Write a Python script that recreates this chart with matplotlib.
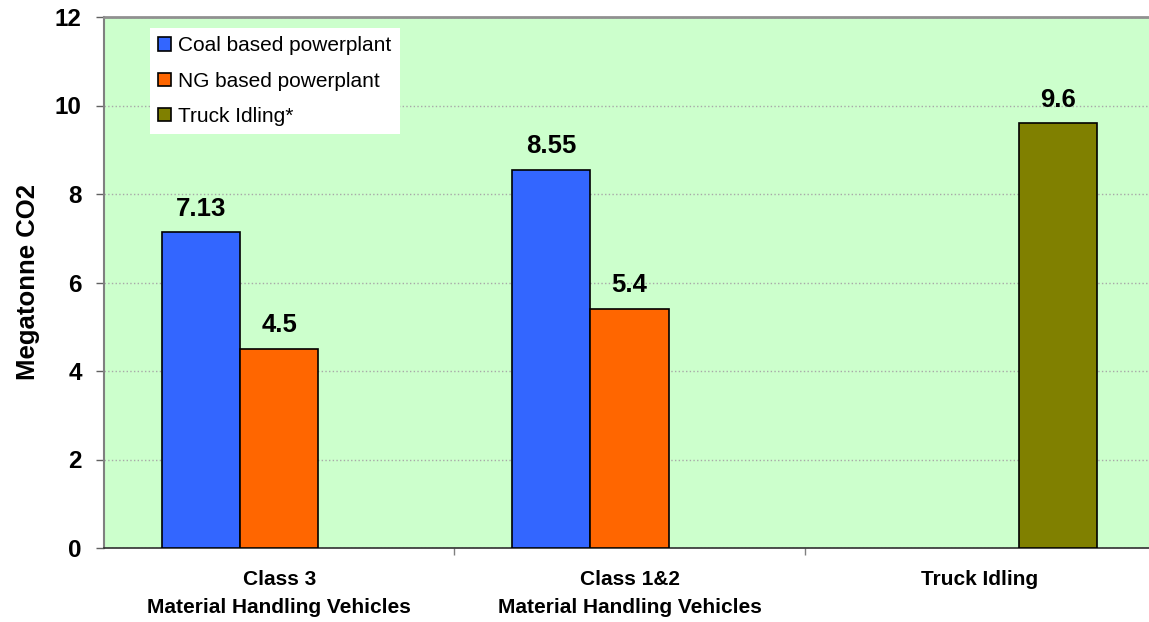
"""
Emissions chart: megatonnes of CO2 per vehicle class / powerplant type.
"""
import matplotlib
matplotlib.use("Agg")
import matplotlib.pyplot as plt
import numpy as np

plt.rcParams['font.family'] = ['Liberation Sans', 'DejaVu Sans']

categories = ['Class 3\nMaterial Handling Vehicles',
              'Class 1&2\nMaterial Handling Vehicles',
              'Truck Idling']
series_names = ['Coal based powerplant', 'NG based powerplant', 'Truck Idling*']
coal = [7.13, 8.55, None]
ng = [4.5, 5.4, None]
truck = [None, None, 9.6]
colors = ['#3366FF', '#FF6600', '#808000']

fig = plt.figure(figsize=(11.49, 6.22), dpi=100)
ax = fig.add_axes([104 / 1149, 1 - 548 / 622, 1051 / 1149, 531 / 622])
ax.set_facecolor('#CCFFCC')

x = np.arange(len(categories))
width = 0.223
offsets = [-width, 0, width]

for vals, off, col, name in zip([coal, ng, truck], offsets, colors, series_names):
    xs = [xi + off for xi, v in zip(x, vals) if v is not None]
    ys = [v for v in vals if v is not None]
    ax.bar(xs, ys, width=width, color=col, edgecolor='black', linewidth=1.2,
           label=name, zorder=3)
    for xi, yi in zip(xs, ys):
        ax.annotate(f'{yi:g}', (xi, yi), xytext=(0, 12), textcoords='offset points',
                    ha='center', va='baseline', fontsize=18.5, fontweight='bold')

ax.set_xlim(-0.5, 2.5)
ax.set_ylim(0, 12)
ax.set_yticks(range(0, 13, 2))
ax.tick_params(axis='y', labelsize=17.5, length=6, width=1, color='#606060', pad=10)
for lbl in ax.get_yticklabels():
    lbl.set_fontweight('bold')

ax.set_xticks(x)
ax.set_xticklabels(categories, fontsize=15, fontweight='bold', linespacing=1.6)
ax.tick_params(axis='x', which='major', length=0, pad=16)
ax.set_xticks([0.5, 1.5], minor=True)
ax.tick_params(axis='x', which='minor', length=5, width=1, color='#808080')

ax.grid(axis='y', color='#A8A8A8', linestyle=':', linewidth=1, zorder=0)
ax.set_ylabel('Megatonne CO2', fontsize=18.5, fontweight='bold', labelpad=11)

ax.spines['top'].set_color('#909090')
ax.spines['top'].set_linewidth(2)
ax.spines['left'].set_color('#808080')
ax.spines['left'].set_linewidth(1.5)
ax.spines['bottom'].set_color('#303030')
ax.spines['bottom'].set_linewidth(1.2)
ax.spines['right'].set_visible(False)

leg = ax.legend(loc='upper left', bbox_to_anchor=(150 / 1149, 1 - 28 / 622),
                bbox_transform=fig.transFigure, borderaxespad=0, fontsize=15,
                frameon=True, fancybox=False, framealpha=1, edgecolor='white',
                handlelength=0.6, handleheight=0.6, handletextpad=0.35,
                labelspacing=0.78, borderpad=0.4)
leg.get_frame().set_linewidth(0)

fig.savefig('out.png', dpi=100)
plt.close(fig)
